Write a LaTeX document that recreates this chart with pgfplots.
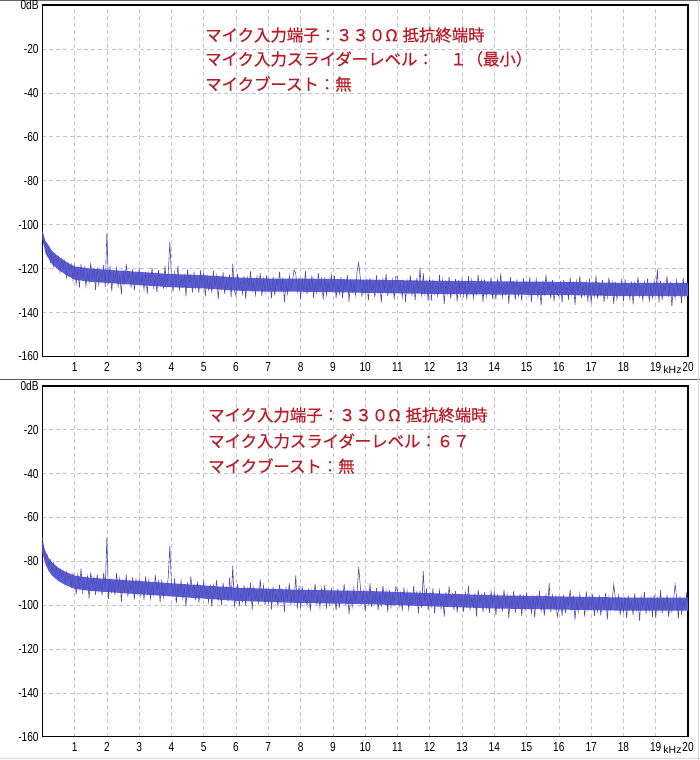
\documentclass[border=0pt]{standalone}
\usepackage{fontspec}
\usepackage{pgfplots}
\pgfplotsset{compat=1.18}
\usepackage{pgfplotstable}
\setmainfont{Liberation Sans}
\newfontfamily\jp[FakeBold=0.5]{Noto Sans CJK JP}
\newfontfamily\tickfont[FakeStretch=0.78]{Liberation Sans}
\definecolor{noiseline}{RGB}{80,80,172}
\definecolor{noisefill}{RGB}{92,92,218}
\definecolor{gridc}{RGB}{196,196,214}
\definecolor{txtred}{RGB}{185,28,38}

% top panel, one value every 0.05 kHz from 0 to 20 kHz
\pgfplotstableread[header=false,row sep=\\]{
-103.5\\ -109.0\\ -108.6\\ -114.2\\ -111.0\\ -116.9\\ -112.4\\ -118.7\\ -113.8\\ -117.2\\ -114.5\\ -121.6\\ -115.9\\ -119.4\\ -116.2\\ -123.8\\ -117.6\\ -121.0\\ -118.1\\ -125.3\\
-119.0\\ -126.7\\ -120.7\\ -128.6\\ -117.9\\ -124.8\\ -119.6\\ -127.9\\ -121.8\\ -126.1\\ -117.3\\ -124.4\\ -120.1\\ -129.8\\ -119.4\\ -127.3\\ -121.3\\ -125.2\\ -118.4\\ -128.4\\
-103.7\\ -126.8\\ -118.7\\ -130.2\\ -122.0\\ -125.6\\ -119.8\\ -128.0\\ -123.2\\ -131.7\\ -120.6\\ -127.3\\ -117.9\\ -124.9\\ -121.6\\ -128.7\\ -120.1\\ -129.9\\ -122.6\\ -126.5\\
-120.2\\ -127.1\\ -123.4\\ -129.5\\ -121.5\\ -131.6\\ -122.0\\ -126.2\\ -119.6\\ -128.5\\ -123.9\\ -130.8\\ -120.7\\ -127.4\\ -122.9\\ -129.2\\ -118.6\\ -127.9\\ -122.5\\ -107.8\\
-123.6\\ -130.5\\ -121.7\\ -127.4\\ -118.7\\ -129.4\\ -124.2\\ -128.1\\ -122.4\\ -132.6\\ -120.5\\ -126.6\\ -122.9\\ -130.8\\ -121.4\\ -128.9\\ -124.6\\ -131.0\\ -120.8\\ -127.2\\
-122.1\\ -132.6\\ -123.7\\ -129.5\\ -125.0\\ -130.9\\ -120.9\\ -128.0\\ -123.2\\ -134.0\\ -124.3\\ -129.2\\ -121.6\\ -131.6\\ -125.5\\ -128.8\\ -122.8\\ -133.0\\ -117.8\\ -130.1\\
-132.4\\ -122.4\\ -129.2\\ -125.3\\ -131.3\\ -123.4\\ -133.8\\ -124.1\\ -128.4\\ -121.3\\ -130.1\\ -125.8\\ -131.9\\ -123.6\\ -128.8\\ -121.9\\ -132.6\\ -124.7\\ -130.7\\ -123.0\\
-130.0\\ -126.1\\ -133.4\\ -123.6\\ -132.2\\ -125.1\\ -128.4\\ -121.4\\ -130.8\\ -124.1\\ -135.2\\ -126.7\\ -131.5\\ -123.3\\ -129.1\\ -125.5\\ -120.5\\ -122.2\\ -130.3\\ -124.8\\
-133.8\\ -125.0\\ -130.4\\ -121.1\\ -131.7\\ -125.4\\ -129.9\\ -123.2\\ -133.3\\ -126.4\\ -131.0\\ -122.1\\ -128.7\\ -124.5\\ -134.1\\ -124.0\\ -132.0\\ -125.9\\ -129.6\\ -122.7\\
-129.7\\ -123.3\\ -133.5\\ -127.1\\ -131.4\\ -123.9\\ -133.3\\ -125.4\\ -129.1\\ -123.0\\ -135.1\\ -124.9\\ -130.6\\ -126.7\\ -131.9\\ -121.2\\ -117.3\\ -124.2\\ -133.0\\ -126.1\\
-131.6\\ -124.8\\ -134.5\\ -124.3\\ -130.3\\ -127.0\\ -133.1\\ -123.1\\ -130.7\\ -125.8\\ -135.5\\ -124.7\\ -129.5\\ -122.4\\ -132.4\\ -126.5\\ -131.0\\ -125.2\\ -134.1\\ -123.6\\
-123.7\\ -130.6\\ -126.9\\ -133.0\\ -125.0\\ -135.1\\ -125.5\\ -129.7\\ -123.1\\ -132.0\\ -127.4\\ -134.3\\ -124.2\\ -130.9\\ -119.5\\ -132.7\\ -122.1\\ -131.4\\ -126.0\\ -134.8\\
-124.1\\ -134.6\\ -125.7\\ -131.5\\ -127.0\\ -132.9\\ -122.9\\ -130.0\\ -125.2\\ -136.0\\ -126.3\\ -131.2\\ -123.6\\ -133.6\\ -127.5\\ -130.8\\ -124.8\\ -135.0\\ -125.3\\ -132.1\\
-124.5\\ -132.2\\ -126.2\\ -134.1\\ -123.4\\ -130.3\\ -125.1\\ -133.4\\ -127.3\\ -131.6\\ -122.8\\ -129.9\\ -125.6\\ -135.3\\ -124.9\\ -132.8\\ -126.8\\ -130.7\\ -123.9\\ -133.9\\
-127.1\\ -134.0\\ -125.2\\ -130.9\\ -122.2\\ -132.9\\ -127.7\\ -131.6\\ -125.9\\ -136.1\\ -124.0\\ -130.1\\ -126.4\\ -134.3\\ -124.9\\ -132.4\\ -128.1\\ -134.5\\ -124.3\\ -130.7\\
-126.3\\ -131.8\\ -123.7\\ -135.2\\ -127.0\\ -130.6\\ -124.8\\ -133.0\\ -128.2\\ -136.7\\ -125.6\\ -132.3\\ -122.9\\ -129.9\\ -126.6\\ -133.7\\ -125.1\\ -134.9\\ -127.6\\ -131.5\\
-132.6\\ -125.8\\ -135.5\\ -125.3\\ -131.3\\ -128.0\\ -134.1\\ -124.1\\ -131.7\\ -126.8\\ -136.5\\ -125.7\\ -130.5\\ -123.4\\ -133.4\\ -127.5\\ -132.0\\ -126.2\\ -135.1\\ -124.6\\
-135.8\\ -127.0\\ -132.4\\ -123.1\\ -133.7\\ -127.4\\ -131.9\\ -125.2\\ -135.3\\ -128.4\\ -133.0\\ -124.1\\ -130.7\\ -126.5\\ -136.1\\ -126.0\\ -134.0\\ -127.9\\ -131.6\\ -124.7\\
-134.9\\ -124.9\\ -131.7\\ -127.8\\ -133.8\\ -125.9\\ -136.3\\ -126.6\\ -130.9\\ -123.8\\ -132.6\\ -128.3\\ -134.4\\ -126.1\\ -131.3\\ -124.4\\ -135.1\\ -127.2\\ -133.2\\ -125.5\\
-132.0\\ -120.2\\ -135.4\\ -125.6\\ -134.2\\ -127.1\\ -130.4\\ -123.4\\ -132.8\\ -126.1\\ -137.2\\ -128.7\\ -133.5\\ -125.3\\ -131.1\\ -127.5\\ -135.7\\ -124.2\\ -132.3\\ -126.8\\
-128.0\\
}\toptable

% bottom panel, one value every 0.05 kHz from 0 to 20 kHz
\pgfplotstableread[header=false,row sep=\\]{
-69.0\\ -74.5\\ -78.9\\ -77.2\\ -82.6\\ -79.5\\ -84.8\\ -80.9\\ -86.1\\ -82.6\\ -87.9\\ -83.4\\ -86.8\\ -84.7\\ -90.2\\ -85.0\\ -88.3\\ -86.2\\ -91.5\\ -85.6\\
-88.1\\ -95.0\\ -86.2\\ -91.9\\ -83.2\\ -93.9\\ -88.7\\ -92.6\\ -86.9\\ -97.1\\ -85.0\\ -91.1\\ -87.4\\ -95.3\\ -85.9\\ -93.4\\ -89.1\\ -95.5\\ -85.3\\ -91.7\\
-69.0\\ -97.1\\ -88.2\\ -94.0\\ -89.5\\ -95.4\\ -85.4\\ -92.5\\ -87.7\\ -98.5\\ -88.8\\ -93.7\\ -86.1\\ -96.1\\ -90.0\\ -93.3\\ -87.3\\ -97.5\\ -87.8\\ -94.6\\
-88.0\\ -95.7\\ -89.7\\ -97.6\\ -86.9\\ -93.8\\ -88.6\\ -96.9\\ -90.8\\ -95.1\\ -86.3\\ -93.4\\ -89.1\\ -98.8\\ -88.4\\ -96.3\\ -90.3\\ -94.2\\ -87.4\\ -73.0\\
-90.3\\ -95.8\\ -87.7\\ -99.2\\ -91.0\\ -94.6\\ -88.8\\ -97.0\\ -92.2\\ -100.7\\ -89.6\\ -96.3\\ -86.9\\ -93.9\\ -90.6\\ -97.7\\ -89.1\\ -98.9\\ -91.6\\ -95.5\\
-89.2\\ -96.1\\ -92.4\\ -98.5\\ -90.5\\ -100.6\\ -91.0\\ -95.2\\ -88.6\\ -97.5\\ -92.9\\ -99.8\\ -89.7\\ -96.4\\ -91.9\\ -98.2\\ -87.6\\ -96.9\\ -82.0\\ -100.3\\
-96.7\\ -90.3\\ -100.5\\ -94.1\\ -98.4\\ -90.9\\ -100.3\\ -92.4\\ -96.1\\ -90.0\\ -102.1\\ -91.9\\ -97.6\\ -93.7\\ -98.9\\ -88.2\\ -96.9\\ -91.2\\ -100.0\\ -93.1\\
-99.1\\ -92.3\\ -102.0\\ -91.8\\ -97.8\\ -94.5\\ -100.6\\ -90.6\\ -98.2\\ -93.3\\ -103.0\\ -92.2\\ -97.0\\ -89.9\\ -99.9\\ -94.0\\ -98.5\\ -86.4\\ -101.6\\ -91.1\\
-101.4\\ -91.4\\ -98.2\\ -94.3\\ -100.3\\ -92.4\\ -102.8\\ -93.1\\ -97.4\\ -90.3\\ -99.1\\ -94.8\\ -100.9\\ -92.6\\ -97.8\\ -90.9\\ -101.6\\ -93.7\\ -99.7\\ -92.0\\
-99.0\\ -95.1\\ -102.4\\ -92.6\\ -101.2\\ -94.1\\ -97.4\\ -90.4\\ -99.8\\ -93.1\\ -104.2\\ -95.7\\ -100.5\\ -92.3\\ -98.1\\ -94.5\\ -82.7\\ -91.2\\ -99.3\\ -93.8\\
-102.8\\ -94.0\\ -99.4\\ -90.1\\ -100.7\\ -94.4\\ -98.9\\ -92.2\\ -102.3\\ -95.4\\ -100.0\\ -91.1\\ -97.7\\ -93.5\\ -103.1\\ -93.0\\ -101.0\\ -94.9\\ -98.6\\ -91.7\\
-93.0\\ -100.7\\ -94.7\\ -102.6\\ -91.9\\ -98.8\\ -93.6\\ -101.9\\ -95.8\\ -100.1\\ -91.3\\ -98.4\\ -94.1\\ -103.8\\ -93.4\\ -101.3\\ -84.5\\ -99.2\\ -92.4\\ -102.4\\
-94.8\\ -100.3\\ -92.2\\ -103.7\\ -95.5\\ -99.1\\ -93.3\\ -101.5\\ -96.7\\ -105.2\\ -94.1\\ -100.8\\ -91.4\\ -98.4\\ -95.1\\ -102.2\\ -93.6\\ -103.4\\ -96.1\\ -100.0\\
-96.1\\ -103.0\\ -94.2\\ -99.9\\ -91.2\\ -101.9\\ -96.7\\ -100.6\\ -94.9\\ -105.1\\ -93.0\\ -99.1\\ -95.4\\ -103.3\\ -93.9\\ -101.4\\ -97.1\\ -103.5\\ -93.3\\ -99.7\\
-94.1\\ -104.6\\ -95.7\\ -101.5\\ -97.0\\ -102.9\\ -92.9\\ -100.0\\ -95.2\\ -106.0\\ -96.3\\ -101.2\\ -93.6\\ -103.6\\ -97.5\\ -100.8\\ -94.8\\ -105.0\\ -95.3\\ -102.1\\
-94.2\\ -101.1\\ -97.4\\ -103.5\\ -95.5\\ -105.6\\ -96.0\\ -100.2\\ -93.6\\ -102.5\\ -97.9\\ -104.8\\ -94.7\\ -101.4\\ -90.0\\ -103.2\\ -95.6\\ -101.9\\ -96.5\\ -105.3\\
-101.5\\ -97.6\\ -104.9\\ -95.1\\ -103.7\\ -96.6\\ -99.9\\ -92.9\\ -102.3\\ -95.6\\ -106.7\\ -98.2\\ -103.0\\ -94.8\\ -100.6\\ -97.0\\ -105.2\\ -93.7\\ -101.8\\ -96.3\\
-101.2\\ -94.8\\ -105.0\\ -98.6\\ -102.9\\ -95.4\\ -104.8\\ -96.9\\ -100.6\\ -94.5\\ -106.6\\ -96.4\\ -102.1\\ -98.2\\ -90.5\\ -96.7\\ -101.4\\ -95.7\\ -104.5\\ -97.6\\
-103.1\\ -96.3\\ -106.0\\ -95.8\\ -101.8\\ -98.5\\ -104.6\\ -94.6\\ -102.2\\ -97.3\\ -107.0\\ -96.2\\ -101.0\\ -93.9\\ -103.9\\ -98.0\\ -102.5\\ -96.7\\ -105.6\\ -95.1\\
-105.8\\ -97.0\\ -102.4\\ -93.1\\ -103.7\\ -97.4\\ -101.9\\ -95.2\\ -105.3\\ -98.4\\ -103.0\\ -98.0\\ -90.5\\ -96.5\\ -106.1\\ -96.0\\ -104.0\\ -97.9\\ -101.6\\ -94.7\\
-99.5\\
}\bottable

\pgfplotsset{panel/.style={
  scale only axis, width=645.7pt,
  xmin=0, xmax=20, ymin=-160, ymax=0,
  xtick={1,2,3,4,5,6,7,8,9,10,11,12,13,14,15,16,17,18,19,20},
  xticklabels={1,2,3,4,5,6,7,8,9,10,11,12,13,14,15,16,17,18,19,20},
  ytick={-160,-140,-120,-100,-80,-60,-40,-20,0},
  yticklabels={-160,-140,-120,-100,-80,-60,-40,-20,0dB},
  major tick length=0pt,
  grid=major,
  major grid style={gridc, dash pattern=on 4pt off 3pt, line width=0.7pt},
  axis line style={black, line width=1.6pt},
  ticklabel style={font=\tickfont\fontsize{13}{13}\selectfont, text=black},
  xticklabel style={anchor=base, inner sep=0pt, yshift=-15pt},
  yticklabel style={anchor=east, inner sep=0pt, xshift=-3.5pt},
}}

\begin{document}
\begin{tikzpicture}
\path[use as bounding box] (0pt,0pt) rectangle (700pt,760pt);
\fill[white] (0pt,0pt) rectangle (700pt,760pt);
\draw[black!60, line width=1.2pt] (0pt,759.4pt) -- (700pt,759.4pt);
\draw[black!65, line width=1.3pt] (0pt,380.5pt) -- (700pt,380.5pt);
\draw[black!15, line width=1pt] (698.5pt,0pt) -- (698.5pt,760pt);
\draw[black!15, line width=1pt] (0pt,1pt) -- (700pt,1pt);

% ---------------- top panel ----------------
\begin{axis}[panel, at={(42.3pt,403.5pt)}, anchor=south west, height=351.5pt]
\addplot[fill=noisefill, draw=none] coordinates {
 (0,-102.5) (0.1,-107.5) (0.2,-109.5) (0.3,-112) (0.5,-114.5) (0.75,-117) (1,-119)
 (1.5,-120) (2,-120.5) (3,-121.5) (4,-122.5) (5,-123) (6,-124) (7,-124.5) (8,-124.5)
 (10,-125) (12,-125.5) (14,-125.8) (16,-126) (18,-126.5) (20,-126.5)
 (20,-132.5) (18,-132.5) (16,-132) (14,-131.8) (12,-131.5) (10,-131) (8,-130.5)
 (7,-130.5) (6,-130) (5,-129) (4,-128.5) (3,-127.5) (2,-126.5) (1.5,-126) (1,-125)
 (0.75,-123) (0.5,-120.5) (0.3,-118) (0.2,-115.5) (0.1,-113) (0,-106)
} -- cycle;
\addplot[noiseline, line width=0.6pt, mark=none] table[x expr=\coordindex*0.05, y index=0] {\toptable};
\end{axis}

% ---------------- bottom panel ----------------
\begin{axis}[panel, at={(42.3pt,23.3pt)}, anchor=south west, height=350.7pt]
\addplot[fill=noisefill, draw=none] coordinates {
 (0,-71) (0.1,-75.5) (0.2,-78.5) (0.3,-80.5) (0.5,-83) (0.75,-85) (1,-86.5)
 (1.5,-87.5) (2,-88) (3,-89) (4,-90) (5,-91) (6,-92) (7,-92.5) (8,-93)
 (10,-93.5) (12,-94.5) (14,-95.5) (16,-96) (18,-96.5) (20,-96.5)
 (20,-102.5) (18,-102.5) (16,-102) (14,-101.5) (12,-100.5) (10,-99.5) (8,-99)
 (7,-98.5) (6,-98) (5,-97) (4,-96) (3,-95) (2,-94) (1.5,-93.5) (1,-92.5)
 (0.75,-91) (0.5,-89) (0.3,-86.5) (0.2,-84.5) (0.1,-81.5) (0,-76)
} -- cycle;
\addplot[noiseline, line width=0.6pt, mark=none] table[x expr=\coordindex*0.05, y index=0] {\bottable};
\end{axis}

% unit labels
\node[anchor=base, inner sep=0pt, font=\fontsize{10.5}{10.5}\selectfont] at (672.5pt,386.5pt) {kHz};
\node[anchor=base, inner sep=0pt, font=\fontsize{10.5}{10.5}\selectfont] at (672.5pt,6.3pt) {kHz};

% annotations
\begin{scope}[every node/.style={anchor=west, inner sep=0pt, text=txtred, font=\jp\fontsize{16.4}{16.4}\selectfont}]
\node at (205pt,725pt) {マイク入力端子：３３０Ω\hspace{0.3em}抵抗終端時};
\node at (205pt,701pt) {マイク入力スライダーレベル：　１（最小）};
\node at (205pt,676pt) {マイクブースト：無};
\node at (208pt,345pt) {マイク入力端子：３３０Ω\hspace{0.3em}抵抗終端時};
\node at (208pt,319pt) {マイク入力スライダーレベル：６７};
\node at (208pt,294pt) {マイクブースト：無};
\end{scope}
\end{tikzpicture}
\end{document}
